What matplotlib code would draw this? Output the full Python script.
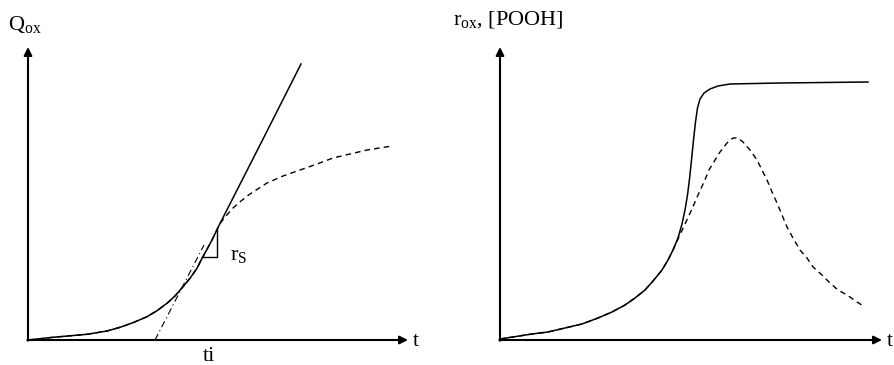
import numpy as np
import matplotlib.pyplot as plt

plt.rcParams['font.family'] = ['Liberation Serif', 'DejaVu Serif']
plt.rcParams['mathtext.fontset'] = 'custom'
plt.rcParams['mathtext.rm'] = 'Liberation Serif'
plt.rcParams['mathtext.it'] = 'Liberation Serif:italic'

# left panel: oxygen uptake Q_ox vs time (schematic, pixel-like units)
q_low_t = [0, 25, 59, 79, 92, 105, 119, 129, 139, 147, 155, 162, 169, 174, 179, 184, 192]
q_low_v = [0, 2.7, 5.7, 9, 12.7, 17.3, 23.3, 29.3, 36.7, 44, 53.3, 61.7, 71.7, 81.7, 90.7, 100, 116.5]
q_solid_t = q_low_t + [233, 273]
q_solid_v = q_low_v + [197, 276]
q_dash_t = q_low_t + [198, 205, 213, 222, 239, 255, 272, 289, 305, 322, 339, 364]
q_dash_v = q_low_v + [124, 132, 139, 146, 157, 164, 170, 176, 182, 186, 190, 194]
tangent_t = [127, 176]
tangent_v = [0, 95]
slope_t = [174, 189, 189]
slope_v = [83, 83, 111]

# right panel: r_ox (solid) and [POOH] (dashed)
r_low_t = [0, 32, 48, 65, 82, 98, 112, 125, 135, 145, 153, 162, 168, 173]
r_low_v = [1, 6, 8, 12, 16, 22, 28, 35, 42, 50, 59, 70, 80, 90]
r_solid_t = r_low_t + [178, 182, 185, 187.5, 189.5, 191.5, 193.5, 195.5, 197.5, 200, 204, 210, 218, 230, 280, 368]
r_solid_v = r_low_v + [102, 116, 130, 145, 161, 180, 200, 218, 232, 241, 247, 251, 254, 256, 257, 258]
pooh_t = r_low_t + [178, 185, 192, 198, 204, 209, 215, 220, 227, 233, 238, 243, 250, 257,
                    262, 267, 272, 277, 282, 287, 293, 300, 307, 313, 322, 330, 338, 347, 357, 365]
pooh_v = r_low_v + [101, 116, 131, 145, 158, 170, 180, 188, 197, 202, 202, 198, 190, 180,
                    170, 160, 148, 137, 125, 113, 102, 90, 82, 73, 65, 57, 50, 45, 38, 33]

fig = plt.figure(figsize=(8.94, 3.65), dpi=100)
ax1 = fig.add_axes([0, 0, 0.5, 1])
ax2 = fig.add_axes([0.5, 0, 0.5, 1])
ax1.set_xlim(-28, 419)
ax2.set_xlim(-53, 394)
for ax in (ax1, ax2):
    ax.set_ylim(-25, 340)
    ax.axis('off')

dash = (0, (4, 3))

def draw_axes(ax, xend, yend):
    arrow = dict(arrowstyle='-|>', lw=1.5, color='black', mutation_scale=12,
                 shrinkA=0, shrinkB=0)
    ax.annotate('', xy=(xend, 0), xytext=(-0.7, 0), arrowprops=arrow)
    ax.annotate('', xy=(0, yend), xytext=(0, -0.7), arrowprops=arrow)

draw_axes(ax1, 380, 293)
ax1.plot(q_dash_t, q_dash_v, color='black', lw=1.0, linestyle=dash)
ax1.plot(q_solid_t, q_solid_v, color='black', lw=1.1)
ax1.plot(tangent_t, tangent_v, color='black', lw=0.8, linestyle=(0, (6, 3, 1, 3)))
ax1.plot(slope_t, slope_v, color='black', lw=1.0)
ax1.text(-20, 310, r'$\mathrm{Q}_{\mathrm{ox}}$', fontsize=16, va='baseline')
ax1.text(385, -6, 't', fontsize=16, va='baseline')
ax1.text(181, -21, 'ti', fontsize=16, va='baseline', ha='center')
ax1.text(202, 80, r'$\mathrm{r}_{\mathrm{S}}$', fontsize=16, va='baseline')

draw_axes(ax2, 382, 293)
ax2.plot(pooh_t, pooh_v, color='black', lw=1.0, linestyle=dash)
ax2.plot(r_solid_t, r_solid_v, color='black', lw=1.1)
ax2.text(-47, 315, r'$\mathrm{r}_{\mathrm{ox}}$, [POOH]', fontsize=16, va='baseline')
ax2.text(387, -6, 't', fontsize=16, va='baseline')

fig.savefig('out.png', dpi=100)
